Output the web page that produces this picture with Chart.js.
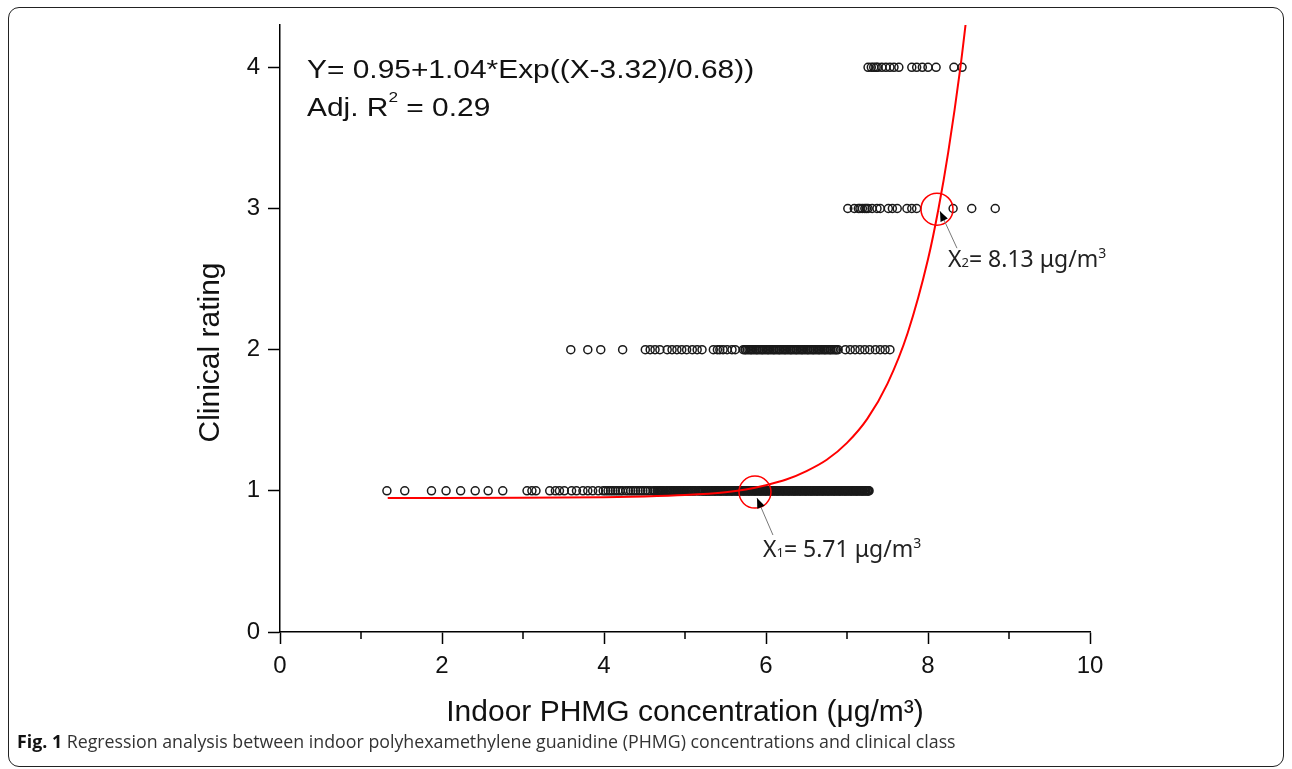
<!DOCTYPE html>
<html>
<head>
<meta charset="utf-8">
<script src="https://cdn.jsdelivr.net/npm/chart.js@4/dist/chart.umd.min.js"></script>
<style>
  body { margin: 0; background: #fff; }
  #wrap { position: relative; width: 1292px; height: 769px; overflow: hidden; }
  #frame { position: absolute; left: 8px; top: 7px; width: 1274px; height: 758px;
           border: 1.5px solid #222; border-radius: 11px; }
  #chart1 { position: absolute; left: 0; top: 0; }
  #caption { position: absolute; left: 17px; top: 729px; font-family: "Open Sans", sans-serif;
             font-size: 17.8px; color: #333; white-space: nowrap; }
  #caption b { font-weight: 700; color: #111; }
</style>
</head>
<body>
<div id="wrap">
  <div id="frame"></div>
  <canvas id="chart1" width="1292" height="769"></canvas>
  <div id="caption"><b>Fig. 1</b> Regression analysis between indoor polyhexamethylene guanidine (PHMG) concentrations and clinical class</div>
</div>
<script>
var rating1X = [1.32, 1.54, 1.87, 2.05, 2.23, 2.41, 2.57, 2.75, 3.05, 3.11, 3.16, 3.33, 3.40, 3.45, 3.51,
  3.60, 3.66, 3.74, 3.80, 3.86, 3.93, 3.99, 4.02, 4.05, 4.08, 4.11, 4.14, 4.17, 4.20, 4.23, 4.27, 4.30,
  4.33, 4.36, 4.39, 4.42, 4.45, 4.48, 4.51, 4.54, 4.57,
  4.61, 4.63, 4.66, 4.68, 4.70, 4.72, 4.74, 4.77, 4.79, 4.81, 4.83, 4.85, 4.87, 4.90, 4.92, 4.94, 4.96,
  4.98, 5.00, 5.03, 5.05, 5.07, 5.09, 5.11, 5.13, 5.16, 5.18, 5.20,
  5.22, 5.23, 5.25, 5.26, 5.27, 5.29, 5.30, 5.31, 5.33, 5.34, 5.36, 5.37, 5.38, 5.40, 5.41, 5.43, 5.44,
  5.45, 5.47, 5.48, 5.50, 5.51, 5.52, 5.54, 5.55, 5.57, 5.58, 5.59, 5.61, 5.62, 5.64, 5.65, 5.66, 5.68,
  5.69, 5.71, 5.72, 5.73, 5.75, 5.76, 5.78, 5.79, 5.80, 5.82, 5.83, 5.85, 5.86, 5.87, 5.89, 5.90, 5.92,
  5.93, 5.94, 5.96, 5.97, 5.99, 6.00, 6.01, 6.03, 6.04, 6.06, 6.07, 6.08, 6.10, 6.11, 6.13, 6.14, 6.15,
  6.17, 6.18, 6.20, 6.21, 6.22, 6.24, 6.25, 6.27, 6.28, 6.29, 6.31, 6.32, 6.34, 6.35, 6.36, 6.38, 6.39,
  6.41, 6.42, 6.43, 6.45, 6.46, 6.48, 6.49, 6.50, 6.52, 6.53, 6.55, 6.56, 6.57, 6.59, 6.60, 6.62, 6.63,
  6.64, 6.66, 6.67, 6.69, 6.70, 6.71, 6.73, 6.74, 6.76, 6.77, 6.78, 6.80, 6.81, 6.83, 6.84, 6.85, 6.87,
  6.88, 6.90, 6.91, 6.92, 6.94, 6.95, 6.97, 6.98, 6.99, 7.01, 7.02, 7.04, 7.05, 7.06, 7.08, 7.09, 7.11,
  7.12, 7.13, 7.15, 7.16, 7.18, 7.19, 7.20, 7.22, 7.23, 7.25, 7.26, 7.27]
var rating2X = [3.59, 3.80, 3.96, 4.23, 4.51, 4.57, 4.63, 4.69, 4.78, 4.84, 4.90, 4.96, 5.02, 5.09, 5.15,
  5.21, 5.35, 5.40, 5.43, 5.47, 5.52, 5.58, 5.62,
  5.72, 5.74, 5.75, 5.77, 5.79, 5.81, 5.82, 5.84, 5.86, 5.88, 5.89, 5.91, 5.93, 5.95, 5.96, 5.98, 6.00,
  6.02, 6.03, 6.05, 6.07, 6.09, 6.10, 6.12, 6.14, 6.16, 6.17, 6.19, 6.21, 6.23, 6.24, 6.26, 6.28, 6.30,
  6.31, 6.33, 6.35, 6.37, 6.38, 6.40, 6.42, 6.44, 6.45, 6.47, 6.49, 6.51, 6.52, 6.54, 6.56, 6.58, 6.59,
  6.61, 6.63, 6.65, 6.66, 6.68, 6.70, 6.72, 6.73, 6.75, 6.77, 6.79, 6.80, 6.82, 6.84, 6.86, 6.87, 6.89,
  6.98, 7.04, 7.10, 7.16, 7.22, 7.28, 7.35, 7.41, 7.47, 7.53]
var rating3X = [7.01, 7.09, 7.14, 7.16, 7.19, 7.22, 7.24, 7.26, 7.31, 7.37, 7.41, 7.51, 7.56, 7.62, 7.74,
  7.80, 7.86, 8.31, 8.54, 8.83]
var rating4X = [7.26, 7.30, 7.33, 7.36, 7.38, 7.43, 7.48, 7.53, 7.58, 7.64, 7.80, 7.86, 7.93, 8.00, 8.10,
  8.32, 8.42]

// fitted curve, points
var curveX = [1.33, 2, 3, 4, 4.5, 5, 5.5, 5.75, 6, 6.25, 6.5, 6.75, 7, 7.25, 7.5, 7.75, 8, 8.13, 8.25, 8.4, 8.5]
var curveY = [0.95, 0.95, 0.951, 0.955, 0.96, 0.97, 0.99, 1.01, 1.04, 1.08, 1.14, 1.22, 1.34, 1.51, 1.76,
  2.12, 2.64, 3.0, 3.40, 4.0, 4.48]

var xTicks = [0, 2, 4, 6, 8, 10]
var xMinor = [1, 3, 5, 7, 9]
var yTicks = [0, 1, 2, 3, 4]

var equation = 'Y= 0.95+1.04*Exp((X-3.32)/0.68))'
var adjR2 = '0.29'
var threshold1 = '5.71'
var threshold2 = '8.13'

function toPoints(xs, level){
  var pts = []
  for (var i = 0; i < xs.length; i++){
    pts.push({x: xs[i], y: level})
  }
  return pts
}

var curvePts = []
for (var i = 0; i < curveX.length; i++){
  curvePts.push({x: curveX[i], y: curveY[i]})
}

// draw a run of text pieces: [text, size, raise, family], optionally stretched sideways
function drawParts(ctx, x, y, parts, stretch){
  stretch = stretch || 1
  ctx.save()
  ctx.translate(x, y)
  ctx.scale(stretch, 1)
  var cx = 0
  parts.forEach(function(p){
    ctx.font = p[1] + 'px ' + p[3]
    ctx.fillText(p[0], cx, -p[2])
    cx += ctx.measureText(p[0]).width
  })
  ctx.restore()
}

function arrow(ctx, x1, y1, x2, y2){
  ctx.strokeStyle = '#777'
  ctx.lineWidth = 1
  ctx.beginPath()
  ctx.moveTo(x1, y1)
  ctx.lineTo(x2, y2)
  ctx.stroke()
  var ang = Math.atan2(y2 - y1, x2 - x1)
  ctx.fillStyle = '#000'
  ctx.beginPath()
  ctx.moveTo(x2, y2)
  ctx.lineTo(x2 - 10 * Math.cos(ang) + 4 * Math.sin(ang), y2 - 10 * Math.sin(ang) - 4 * Math.cos(ang))
  ctx.lineTo(x2 - 10 * Math.cos(ang) - 4 * Math.sin(ang), y2 - 10 * Math.sin(ang) + 4 * Math.cos(ang))
  ctx.closePath()
  ctx.fill()
}

const extras = {
  id: 'extras',
  afterDraw(chart){
    const ctx = chart.ctx
    const a = chart.chartArea
    const xs = chart.scales.x
    const ys = chart.scales.y
    const arial = '"Liberation Sans"'
    ctx.save()

    // minor ticks on x axis
    ctx.strokeStyle = '#000'
    ctx.lineWidth = 1.5
    xMinor.forEach(function(v){
      var px = xs.getPixelForValue(v)
      ctx.beginPath()
      ctx.moveTo(px, a.bottom)
      ctx.lineTo(px, a.bottom + 7)
      ctx.stroke()
    })

    // y axis title
    ctx.fillStyle = '#111'
    ctx.font = '30px ' + arial
    ctx.textAlign = 'center'
    ctx.textBaseline = 'middle'
    ctx.save()
    ctx.translate(211, ys.getPixelForValue(1.98))
    ctx.rotate(-Math.PI / 2)
    ctx.fillText('Clinical rating', 0, 0)
    ctx.restore()

    // fit equation
    ctx.textAlign = 'left'
    ctx.textBaseline = 'alphabetic'
    var ex = a.left + 27
    drawParts(ctx, ex, 78, [[equation, 26, 0, arial]], 1.15)
    drawParts(ctx, ex, 116, [['Adj. R', 26, 0, arial], ['2', 15, 14, arial], [' = ' + adjR2, 26, 0, arial]], 1.15)

    // threshold circles
    ctx.strokeStyle = '#f00'
    ctx.lineWidth = 1.5
    ;[[5.864, 0.991], [8.111, 2.995]].forEach(function(c){
      ctx.beginPath()
      ctx.arc(xs.getPixelForValue(c[0]), ys.getPixelForValue(c[1]), 16, 0, Math.PI * 2)
      ctx.stroke()
    })

    // arrows
    arrow(ctx, xs.getPixelForValue(6.086), ys.getPixelForValue(0.687), xs.getPixelForValue(5.889), ys.getPixelForValue(0.949))
    arrow(ctx, xs.getPixelForValue(8.358), ys.getPixelForValue(2.719), xs.getPixelForValue(8.148), ys.getPixelForValue(2.981))

    // threshold labels
    ctx.fillStyle = '#222'
    var f = '"Noto Sans"'
    drawParts(ctx, xs.getPixelForValue(5.963), ys.getPixelForValue(0.531),
      [['X', 23, 0, f], ['1', 13, 0, f], ['= ' + threshold1 + ' \u03bcg/m', 23, 0, f], ['3', 14, 9, f]])
    drawParts(ctx, xs.getPixelForValue(8.247), ys.getPixelForValue(2.584),
      [['X', 23, 0, f], ['2', 13, 0, f], ['= ' + threshold2 + ' \u03bcg/m', 23, 0, f], ['3', 14, 9, f]])

    ctx.restore()
  }
}

const ctx = document.getElementById('chart1')
const dotStyle = {
  pointStyle: 'circle',
  pointRadius: 4,
  // overlapping rings in the crowded stretch merge into a solid band, as in the print
  pointBorderWidth: function(c){ return c.raw && c.raw.y === 1 && c.raw.x > 4.6 ? 1.9 : 1.5 },
  borderColor: '#1a1a1a',
  backgroundColor: 'rgba(0,0,0,0)',
  showLine: false
}

new Chart(ctx, {
  type: 'scatter',
  data: {
    datasets: [
      {
        data: curvePts,
        showLine: true,
        borderColor: '#ff0000',
        borderWidth: 2,
        pointRadius: 0,
        tension: 0.4,
        cubicInterpolationMode: 'monotone',
        fill: false
      },
      Object.assign({data: toPoints(rating1X, 1)}, dotStyle),
      Object.assign({data: toPoints(rating2X, 2)}, dotStyle),
      Object.assign({data: toPoints(rating3X, 3)}, dotStyle),
      Object.assign({data: toPoints(rating4X, 4)}, dotStyle)
    ]
  },
  options: {
    responsive: false,
    animation: false,
    layout: {padding: {left: 0, right: 202, top: 25, bottom: 0}},
    plugins: {legend: {display: false}, tooltip: {enabled: false}},
    scales: {
      x: {
        type: 'linear',
        min: 0,
        max: 10,
        afterFit: function(s){ s.height = 137 },
        afterBuildTicks: function(s){ s.ticks = xTicks.map(function(v){ return {value: v} }) },
        ticks: {color: '#111', font: {family: 'Liberation Sans', size: 24}, padding: 8},
        grid: {drawOnChartArea: false, drawTicks: true, tickLength: 12, tickColor: '#000', tickWidth: 1.5},
        border: {display: true, color: '#000', width: 1.5},
        title: {display: true, text: 'Indoor PHMG concentration (\u03bcg/m\u00b3)', color: '#111',
          font: {family: 'Liberation Sans', size: 30}, padding: {top: 0, bottom: 38}}
      },
      y: {
        type: 'linear',
        min: 0,
        max: 4.3,
        afterFit: function(s){ s.width = 280 },
        afterBuildTicks: function(s){ s.ticks = yTicks.map(function(v){ return {value: v} }) },
        ticks: {color: '#111', font: {family: 'Liberation Sans', size: 24}, padding: 8},
        grid: {drawOnChartArea: false, drawTicks: true, tickLength: 12, tickColor: '#000', tickWidth: 1.5},
        border: {display: true, color: '#000', width: 1.5}
      }
    }
  },
  plugins: [extras]
})
</script>
</body>
</html>
